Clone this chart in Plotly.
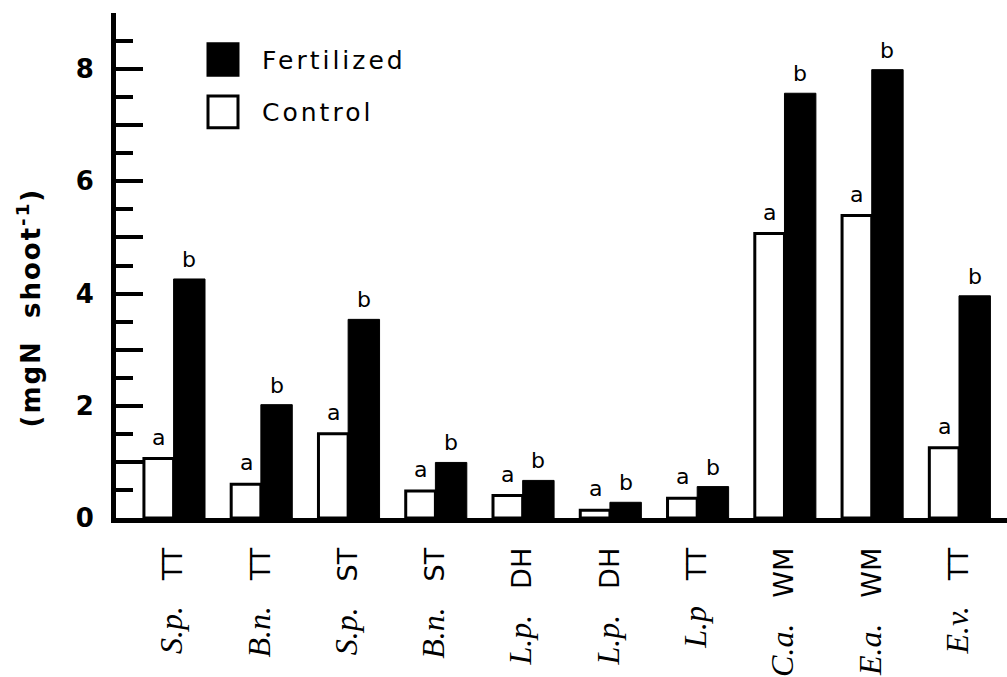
import plotly.graph_objects as go

# Shoot nitrogen content by species and site
species = ["S.p.", "B.n.", "S.p.", "B.n.", "L.p.", "L.p.", "L.p", "C.a.", "E.a.", "E.v."]
sites = ["TT", "TT", "ST", "ST", "DH", "DH", "TT", "WM", "WM", "TT"]
control = [1.06, 0.60, 1.50, 0.48, 0.40, 0.14, 0.35, 5.07, 5.39, 1.25]
fertilized = [4.26, 2.02, 3.54, 0.99, 0.67, 0.28, 0.56, 7.57, 7.99, 3.96]
control_letters = ["a"] * 10
fertilized_letters = ["b"] * 10

y_label_vals = [0, 2, 4, 6, 8]
y_label_text = ["0", "2", "4", "6", "8"]
y_odd_vals = [1, 3, 5, 7, 9]
y_minor_vals = [0.5, 1.5, 2.5, 3.5, 4.5, 5.5, 6.5, 7.5, 8.5]

W, H = 1007, 677
ML, MR, MT, MB = 116, 0, 13, 153
PW, PH = W - ML - MR, H - MT - MB

SANS = "DejaVu Sans"
SERIF = "Liberation Serif"

CW, FW = 0.34, 0.36  # bar widths (category units)
xs = list(range(len(species)))


def px_x(px):
    return (px - ML) / PW


def px_y(py):
    return 1 - (py - MT) / PH


fig = go.Figure()
fig.add_trace(go.Bar(
    x=xs, y=control, name="Control", width=CW, offset=-CW,
    marker=dict(color="white", line=dict(color="black", width=3)),
    showlegend=False,
))
fig.add_trace(go.Bar(
    x=xs, y=fertilized, name="Fertilized", width=FW, offset=0,
    marker=dict(color="black", line=dict(color="black", width=1)),
    showlegend=False,
))
# invisible trace carrying the secondary tick axis
fig.add_trace(go.Scatter(
    x=[xs[0]], y=[0], yaxis="y2", mode="markers",
    marker=dict(opacity=0), hoverinfo="skip", showlegend=False,
))

annotations = []
for i in xs:
    annotations.append(dict(
        x=i - CW / 2, y=control[i], xref="x", yref="y", text=control_letters[i],
        showarrow=False, yanchor="bottom", yshift=7,
        font=dict(family=SANS, size=22, color="black"),
    ))
    annotations.append(dict(
        x=i + FW / 2, y=fertilized[i], xref="x", yref="y", text=fertilized_letters[i],
        showarrow=False, yanchor="bottom", yshift=5,
        font=dict(family=SANS, size=22, color="black"),
    ))

# y-axis title
annotations.append(dict(
    x=px_x(29), y=px_y(311), xref="paper", yref="paper",
    text="<span style='letter-spacing:2px'>(mgN\u00a0\u00a0shoot<sup>-1</sup>)</span>",
    textangle=-90, showarrow=False, xanchor="center", yanchor="middle",
    font=dict(family=SANS, size=26, color="black", weight="bold"),
))

# key
key_items = [("Fertilized", "black", 60), ("Control", "white", 113)]
shapes = []
for label, fill, cy in key_items:
    shapes.append(dict(
        type="rect", xref="paper", yref="paper",
        x0=px_x(208), x1=px_x(238), y0=px_y(cy + 16), y1=px_y(cy - 16),
        fillcolor=fill, line=dict(color="black", width=3),
    ))
    annotations.append(dict(
        x=px_x(260), y=px_y(cy + 1), xref="paper", yref="paper",
        text=f"<span style='letter-spacing:3px'>{label}</span>",
        showarrow=False, xanchor="left", yanchor="middle",
        font=dict(family=SANS, size=25, color="black"),
    ))

tick_text = [
    f"<span style='font-family:{SERIF};font-size:32px'><i>{sp}</i></span>\u00a0\u00a0\u00a0{st}"
    for sp, st in zip(species, sites)
]

tick_style = dict(ticks="inside", ticklen=27, tickwidth=4, tickcolor="black")

fig.update_layout(
    width=W, height=H,
    margin=dict(l=ML, r=MR, t=MT, b=MB, pad=0),
    paper_bgcolor="white", plot_bgcolor="white",
    barmode="overlay",
    annotations=annotations, shapes=shapes,
    xaxis=dict(
        range=[-0.66, 9.55], tickmode="array", tickvals=xs, ticktext=tick_text,
        tickangle=-90, ticks="", showline=True, linewidth=5, linecolor="black",
        showgrid=False, zeroline=False, ticklabelstandoff=14,
        tickfont=dict(family=SANS, size=27, color="black"),
    ),
    yaxis=dict(
        range=[0, 9], tickmode="array", tickvals=y_label_vals, ticktext=y_label_text,
        **tick_style,
        minor=dict(tickmode="array", tickvals=y_minor_vals, ticks="inside",
                   ticklen=17, tickwidth=4, tickcolor="black"),
        showline=True, linewidth=5, linecolor="black",
        showgrid=False, zeroline=False, ticklabelstandoff=12,
        tickfont=dict(family=SANS, size=26, color="black", weight="bold"),
    ),
    yaxis2=dict(
        range=[0, 9], overlaying="y", side="left", anchor="x",
        tickmode="array", tickvals=y_odd_vals, showticklabels=False,
        **tick_style,
        showline=False, showgrid=False, zeroline=False,
    ),
)

fig.write_html("out.html")
